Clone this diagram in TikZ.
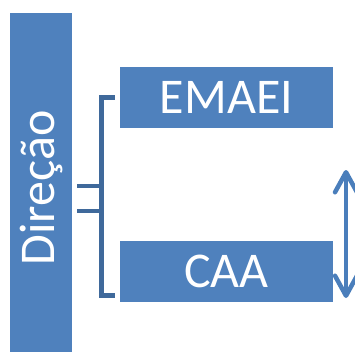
\documentclass[tikz,border=0pt]{standalone}
\usepackage{fontspec}
\setmainfont{Carlito}
\usetikzlibrary{arrows.meta}
\definecolor{boxblue}{HTML}{4F81BD}
\definecolor{brblue}{HTML}{3F699B}
\definecolor{arblue}{HTML}{4A7EBB}
\begin{document}
\begin{tikzpicture}[x=1pt,y=-1pt,
  bluebox/.style={fill=boxblue,draw=none,text=white,font=\fontsize{50}{50}\selectfont,inner sep=0pt},
  bracketline/.style={draw=brblue,line width=4.5pt,line join=miter},
  dblarrow/.style={draw=arblue,line width=4.5pt,{Straight Barb[length=20pt,width=22pt,line cap=round,line join=round]}-{Straight Barb[length=20pt,width=22pt,line cap=round,line join=round]}}]
\useasboundingbox (0,0) rectangle (355,351);
\fill[boxblue] (10,13) rectangle (72,352);
\node[text=white,font=\fontsize{50}{50}\selectfont,rotate=90,inner sep=0pt] (dir) at (41,188) {Direção};
\node[bluebox,minimum width=213pt,minimum height=61pt] (emaei) at (226.5,97.5) {EMAEI};
\node[bluebox,minimum width=213pt,minimum height=61pt] (caa) at (226.5,271.5) {CAA};
\coordinate (bt) at (101.5,97.5);
\coordinate (bb) at (101.5,295.5);
\draw[bracketline] ([xshift=-5pt]emaei.west) -- (bt) -- (bb) -- ([xshift=-5pt]caa.west |- bb);
\draw[bracketline] (77,186) -- (101.5,186);
\draw[bracketline] (77,211) -- (101.5,211);
\coordinate (at) at (346,170);
\coordinate (ab) at (346,298);
\draw[dblarrow] (at) -- (ab);
\end{tikzpicture}
\end{document}
